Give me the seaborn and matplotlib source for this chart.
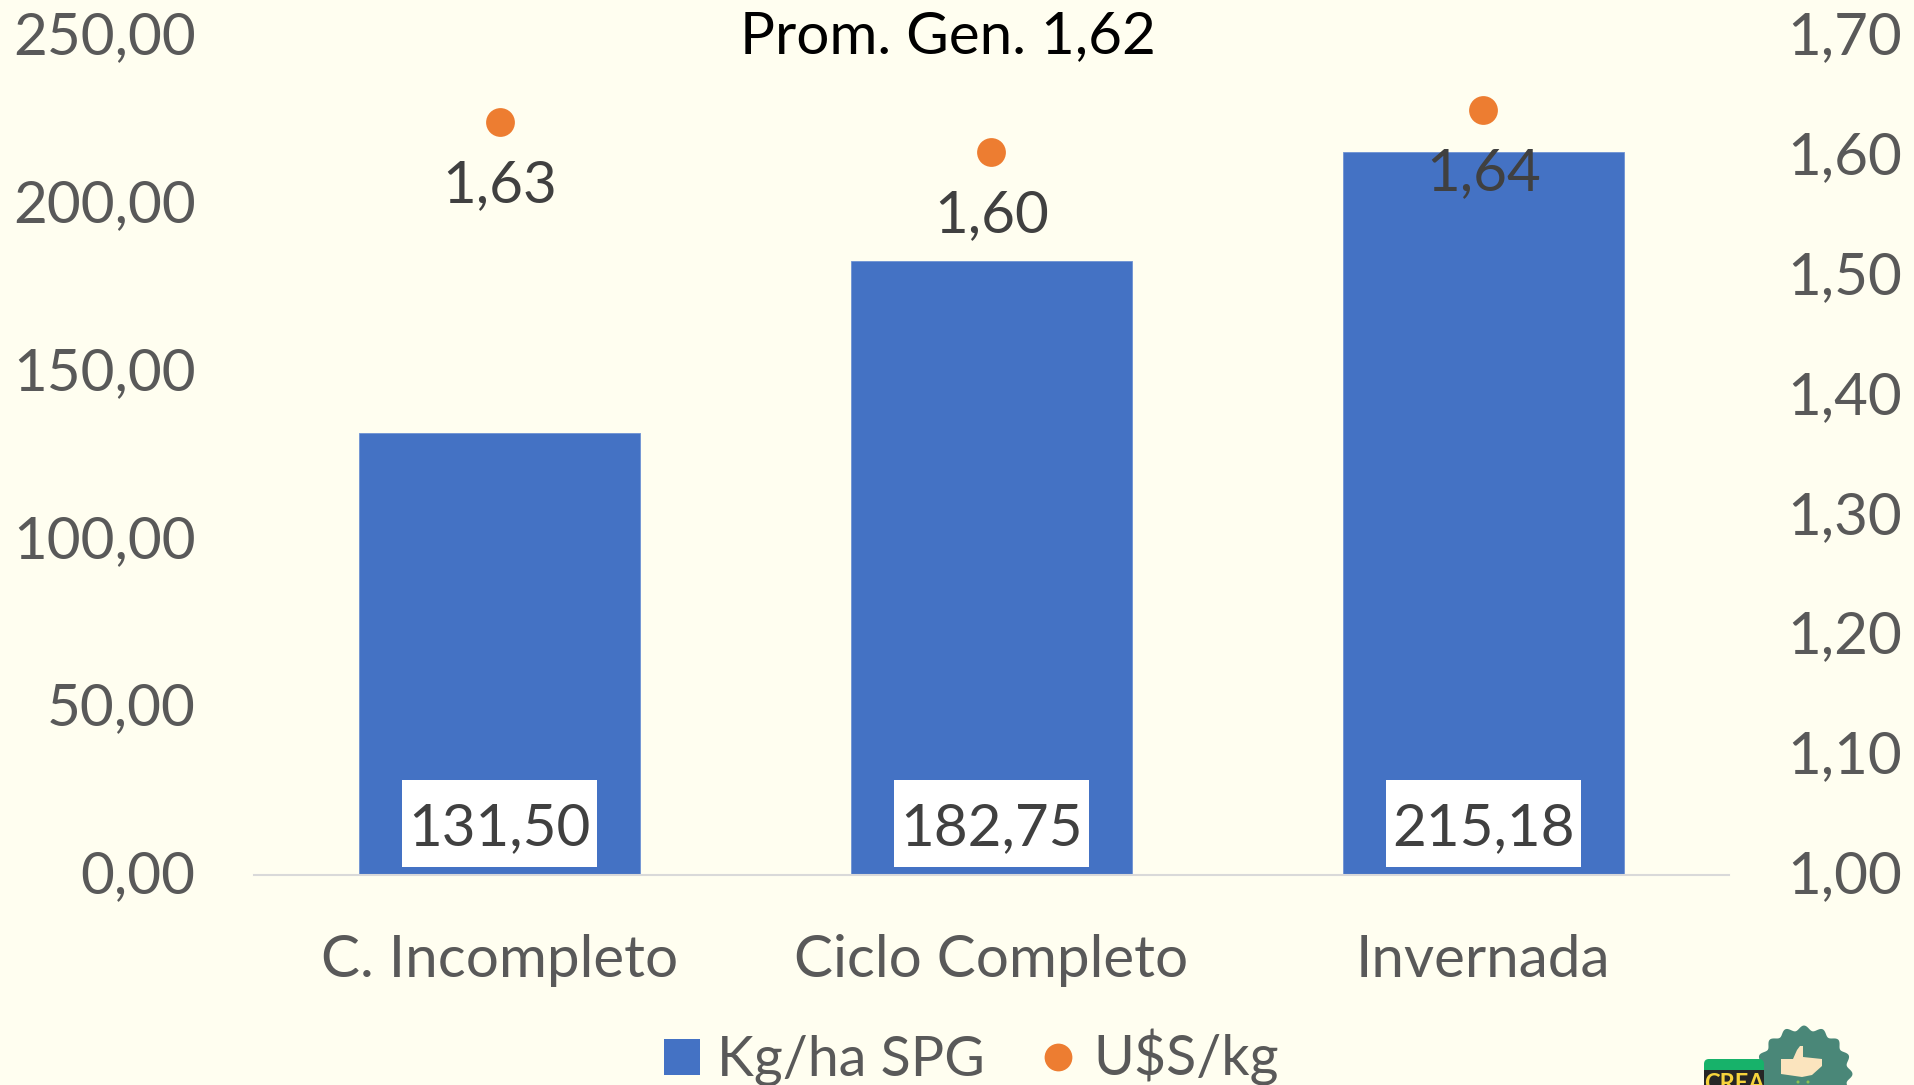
"""
Kg/ha SPG y U$S/kg por sistema productivo
Output: out.png
"""
import matplotlib
matplotlib.use('Agg')
import matplotlib.pyplot as plt
from matplotlib.lines import Line2D
from matplotlib.patches import Polygon, Rectangle, Circle, FancyBboxPatch
from matplotlib.transforms import ScaledTranslation
import seaborn as sns
import pandas as pd
import numpy as np

categorias = ['C. Incompleto', 'Ciclo Completo', 'Invernada']
kg_ha = [131.50, 182.75, 215.18]
kg_labels = ['131,50', '182,75', '215,18']
usd_kg = [1.628, 1.603, 1.638]
usd_labels = ['1,63', '1,60', '1,64']
left_ticks = [0, 50, 100, 150, 200, 250]
left_labels = ['0,00', '50,00', '100,00', '150,00', '200,00', '250,00']
right_ticks = [1.0, 1.1, 1.2, 1.3, 1.4, 1.5, 1.6, 1.7]
right_labels = ['1,00', '1,10', '1,20', '1,30', '1,40', '1,50', '1,60', '1,70']
titulo = 'Prom. Gen. 1,62'

BG = '#FFFEF0'
BLUE = '#4472C4'
ORANGE = '#ED7D31'
GREY = '#595959'
DARK = '#404040'
W, H = 1915, 1085
FS = 42

sns.set_theme(style='white')
plt.rcParams['font.family'] = ['Lato', 'DejaVu Sans']

df = pd.DataFrame({'cat': categorias, 'kg': kg_ha, 'usd': usd_kg})

fig = plt.figure(figsize=(W / 100, H / 100), dpi=100, facecolor=BG)
ax = fig.add_axes([254 / W, 1 - 874.5 / H, 1475 / W, 839 / H], facecolor=BG)

# --- barras ---
sns.barplot(data=df, x='cat', y='kg', color=BLUE, saturation=1, width=0.571, ax=ax,
            edgecolor='#6E92D4', linewidth=0.6)
ax.set_xlim(-0.5, 2.5)
ax.set_ylim(0, 250)
ax.set_xlabel(''); ax.set_ylabel('')
ax.set_yticks(left_ticks)
ax.set_yticklabels(left_labels)
ax.tick_params(axis='y', length=0, labelsize=FS, labelcolor=GREY, pad=42)
ax.tick_params(axis='x', length=0, labelsize=FS, labelcolor=GREY, pad=43)
for s in ['top', 'left', 'right']:
    ax.spines[s].set_visible(False)
ax.spines['bottom'].set_color('#D9D9D9')
ax.spines['bottom'].set_linewidth(1.5)

# --- puntos en eje secundario ---
ax2 = ax.twinx()
sns.scatterplot(data=df, x='cat', y='usd', color=ORANGE, s=430, linewidth=0, ax=ax2, zorder=3)
ax2.set_ylim(1.0, 1.7)
ax2.set_xlim(-0.5, 2.5)
ax2.set_ylabel('')
ax2.set_yticks(right_ticks)
ax2.set_yticklabels(right_labels)
ax2.tick_params(axis='y', length=0, labelsize=FS, labelcolor=GREY, pad=42)
for s in ['top', 'left', 'right', 'bottom']:
    ax2.spines[s].set_visible(False)

# subir un poco los textos de los ejes
for lab in ax.get_yticklabels() + ax2.get_yticklabels():
    lab.set_transform(lab.get_transform() + ScaledTranslation(0, 2 / 72, fig.dpi_scale_trans))

for i, (v, lab) in enumerate(zip(usd_kg, usd_labels)):
    ax2.annotate(lab, (i, v), xytext=(0, -46), textcoords='offset points',
                 ha='center', va='center', fontsize=FS, color=DARK, zorder=4)
for i, lab in enumerate(kg_labels):
    ax2.add_patch(Rectangle((i - 0.1983, 0.009), 0.3966, 0.1036, transform=ax2.get_xaxis_transform(),
                            facecolor='white', edgecolor='none', zorder=3.5))
    ax2.annotate(lab, (i, 1.0), xytext=(0, 33), textcoords='offset points',
                 ha='center', va='center', fontsize=FS, color=DARK, zorder=4)

fig.text(948 / W, 1 - 37 / H, titulo, ha='center', va='center', fontsize=FS, color='black')

# --- leyenda ---
handles = [
    Line2D([], [], linestyle='none', marker='s', markersize=26, color=BLUE, markeredgewidth=0, label='Kg/ha SPG'),
    Line2D([], [], linestyle='none', marker='o', markersize=20, color=ORANGE, markeredgewidth=0, label='U$S/kg'),
]
fig.legend(handles=handles, loc='center', bbox_to_anchor=(970 / W, 1 - 1058 / H), ncol=2, frameon=False,
           fontsize=40, labelcolor=GREY, handlelength=0.75, handletextpad=0.25, columnspacing=0.95, borderpad=0)

# --- logo abajo a la derecha ---
logo = fig.add_axes([0, 0, 1, 1], facecolor='none')
logo.set_xlim(0, W); logo.set_ylim(H, 0); logo.axis('off')
ang = np.linspace(0, 2 * np.pi, 240)
rad = 46 + 2.5 * np.cos(16 * ang)
logo.add_patch(Polygon(np.c_[1804 + rad * np.cos(ang), 1074 + rad * np.sin(ang)], facecolor='#4A8778', edgecolor='none'))
logo.add_patch(FancyBboxPatch((1704, 1059), 60, 30, boxstyle='round,pad=0,rounding_size=5', facecolor='#17B26A', edgecolor='none'))
logo.add_patch(Rectangle((1704, 1070), 60, 15, facecolor='#262626', edgecolor='none'))
logo.text(1734, 1072, 'CREA', fontsize=17, fontweight='bold', color='#F6D33C', ha='center', va='top')
logo.add_patch(Polygon([(1781, 1059), (1793, 1059), (1797, 1050), (1800, 1046), (1803, 1046), (1803, 1057),
                        (1822, 1059), (1822, 1066), (1812, 1075), (1802, 1077), (1781, 1074)],
                       facecolor='#FBE4BE', edgecolor='none'))
for cx in [1798, 1808]:
    logo.add_patch(Circle((cx, 1082), 1.5, facecolor='#8CC152', edgecolor='none'))

fig.savefig('out.png', dpi=100, facecolor=BG)
plt.close()
